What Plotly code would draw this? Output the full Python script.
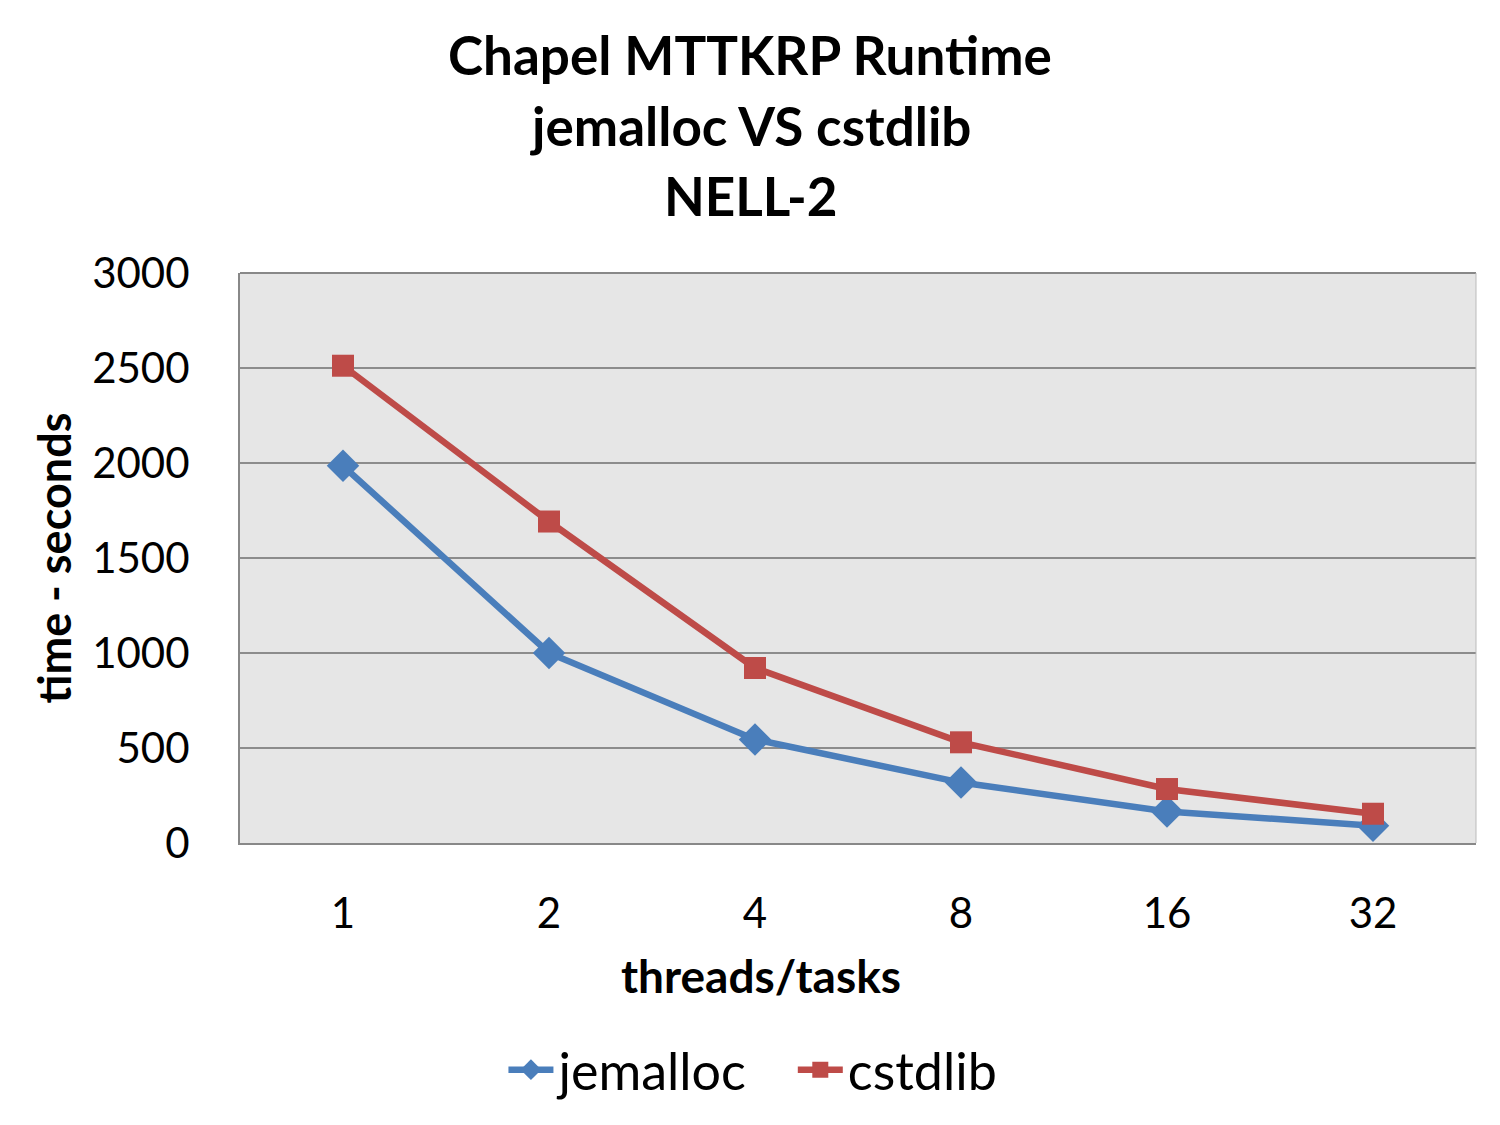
import plotly.graph_objects as go

threads = ["1", "2", "4", "8", "16", "32"]
jemalloc = [1985, 1000, 545, 318, 166, 91]
cstdlib = [2512, 1692, 921, 530, 284, 154]
title_lines = ["Chapel MTTKRP Runtime", "jemalloc VS cstdlib", "NELL-2"]

FONT = "Lato, Open Sans, sans-serif"
NB = "\u00a0"

fig = go.Figure()
fig.add_trace(go.Scatter(
    x=threads, y=jemalloc, name="jemalloc" + NB * 3, mode="lines+markers",
    line=dict(color="#4A7EBB", width=6.5),
    marker=dict(symbol="diamond", size=25, color="#4A7EBB"),
))
fig.add_trace(go.Scatter(
    x=threads, y=cstdlib, name="cstdlib", mode="lines+markers",
    line=dict(color="#BE4B48", width=6.5),
    marker=dict(symbol="square", size=22, color="#BE4B48"),
))

fig.update_layout(
    width=1500, height=1125,
    margin=dict(l=240, r=24, t=273, b=282),
    paper_bgcolor="white", plot_bgcolor="#E6E6E6",
    font=dict(family=FONT, color="black"),
    legend=dict(
        orientation="h", x=0.415, xanchor="center", y=0.049, yanchor="middle",
        xref="paper", yref="container",
        font=dict(size=52, family=FONT), itemwidth=45,
    ),
    showlegend=True,
)
fig.update_xaxes(
    type="category", range=[-0.5, 5.5], showgrid=False, showline=True,
    linecolor="#888888", linewidth=2,
    tickfont=dict(size=42), ticks="", ticklabelstandoff=33,
)
fig.update_yaxes(
    range=[0, 3000], dtick=500, showgrid=True, gridcolor="#8C8C8C", gridwidth=1.5,
    showline=True, linecolor="#888888", linewidth=2, zeroline=False,
    tickfont=dict(size=42), ticks="", ticklabelstandoff=40,
    title=dict(text="<b>time - seconds</b>", font=dict(size=45), standoff=6),
)
fig.add_shape(type="line", xref="paper", yref="paper", x0=0, x1=1, y0=1, y1=1,
              line=dict(color="#888888", width=2))
fig.add_shape(type="line", xref="paper", yref="paper", x0=1, x1=1, y0=0, y1=1,
              line=dict(color="#BBBBBB", width=1))

# title lines
for i, t in enumerate(title_lines):
    fig.add_annotation(text=f"<b>{t}</b>", xref="paper", yref="paper",
                       x=(750 - 240) / 1236, y=(843 - (55 + 70 * i)) / 570,
                       xanchor="center", yanchor="middle", showarrow=False,
                       font=dict(size=53, family=FONT))
# x-axis title
fig.add_annotation(text="<b>threads/tasks</b>", xref="paper", yref="paper",
                   x=(761 - 240) / 1236, y=(843 - 975) / 570,
                   xanchor="center", yanchor="middle", showarrow=False,
                   font=dict(size=46, family=FONT))

fig.write_html("out.html")
